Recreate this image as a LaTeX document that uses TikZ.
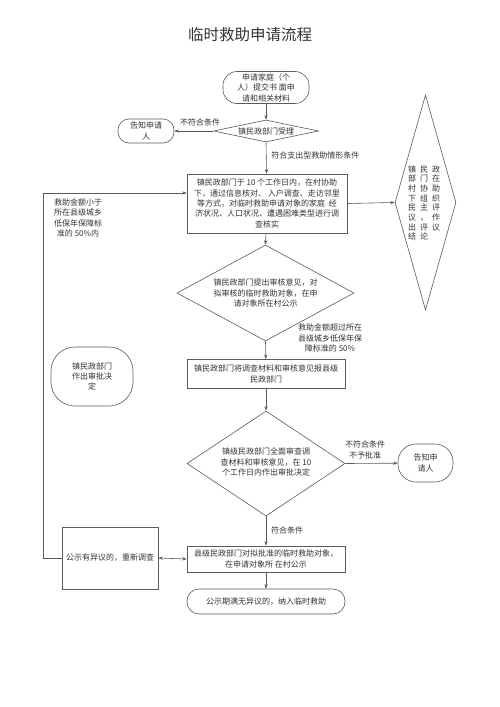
\documentclass[tikz,border=0pt]{standalone}
\usepackage{fontspec}
\setmainfont{Noto Sans CJK SC}
\usetikzlibrary{shapes.geometric,arrows.meta}
\definecolor{lc}{HTML}{5A5A5A}
\definecolor{tc}{HTML}{333333}
\begin{document}
\begin{tikzpicture}[x=1pt,y=-1pt,line width=0.6pt,
  every node/.style={text=tc,font=\fontsize{8}{10.4}\selectfont,align=center},
  box/.style={draw=lc,rectangle,inner sep=0pt},
  stad/.style={draw=lc,rectangle,rounded corners=#1,inner sep=0pt},
  dia/.style={draw=lc,diamond,inner sep=0pt},
  arr/.style={draw=lc,-{Stealth[length=4.5pt,width=3.2pt]}},
  lab/.style={inner sep=0pt}]
\fill[white] (0,0) rectangle (500,707);
\useasboundingbox (0,0) rectangle (500,707);

\node[lab,font=\fontsize{15.5}{17}\selectfont] (title) at (250,35) {临时救助申请流程};

\node[stad=14pt,minimum width=86pt,minimum height=32pt] (start) at (266,87.5) {申请家庭（个\\人）提交书 面申\\请和相关材料};
\node[dia,minimum width=105pt,minimum height=22pt] (d1) at (266,131) {};
\node[lab] (d1t) at (266,131) {镇民政部门受理};
\node[stad=11pt,minimum width=56pt,minimum height=24pt] (no1) at (146,131) {告知申请\\人};
\node[box,minimum width=160pt,minimum height=59pt] (box1) at (267,203.5) {镇民政部门于 10 个工作日内，在村协助\\下，通过信息核对、 入户调查、走访邻里\\等方式，对临时救助申请对象的家庭\ \ 经\\济状况、人口状况、遭遇困难类型进行调\\查核实};
\node[dia,minimum width=61pt,minimum height=215pt] (rd) at (425.5,202.5) {};
\node[lab,align=left,font=\fontsize{8}{9.7}\selectfont] (rdt) at (424,203) {镇\hspace{4pt}民\hspace{4pt}政\\部\hspace{4pt}门\hspace{4pt}在\\村\hspace{4pt}协\hspace{4pt}助\\下\hspace{4pt}组\hspace{4pt}织\\民\hspace{4pt}主\hspace{4pt}评\\议\hspace{4pt}，\hspace{4pt}作\\出\hspace{4pt}评\hspace{4pt}议\\结\hspace{4pt}论};
\node[dia,minimum width=177pt,minimum height=96pt] (d2) at (265.5,293) {};
\node[lab] (d2t) at (265.5,293) {镇民政部门提出审核意见，对\\拟审核的临时救助对象，在申\\请对象所在村公示};
\node[box,minimum width=158pt,minimum height=29pt] (box2) at (266,374) {镇民政部门将调查材料和审核意见报县级\\民政部门};
\node[stad=24pt,minimum width=82pt,minimum height=59pt] (lr) at (92,376.5) {镇民政部门\\作出审批决\\定};
\node[dia,minimum width=158pt,minimum height=105pt] (d3) at (266,463.5) {};
\node[lab] (d3t) at (266,462) {镇级民政部门全面审查调\\查材料和审核意见，在 10\\个工作日内作出审批决定};
\node[stad=18pt,minimum width=55pt,minimum height=38pt] (no2) at (425.5,463) {告知申\\请人};
\node[box,minimum width=158pt,minimum height=26pt] (box4) at (266,559) {县级民政部门对拟批准的临时救助对象，\\在申请对象所 在村公示};
\node[box,minimum width=96pt,minimum height=62pt] (lb) at (110,558) {公示有异议的，重新调查};
\node[stad=12pt,minimum width=158pt,minimum height=25pt] (end) at (266,601.5) {公示期满无异议的，纳入临时救助};

\node[lab] (l1) at (200,122) {不符合条件};
\node[lab,anchor=west] (l2) at (271,155) {符合支出型救助情形条件};
\node[lab] (l3) at (78,218) {救助金额小于\\所在县级城乡\\低保年保障标\\准的 50\%内};
\node[lab] (l4) at (330,338) {救助金额超过所在\\县级城乡低保年保\\障标准的 50\%};
\node[lab] (l5) at (365,450) {不符合条件\\不予批准};
\node[lab] (l6) at (287,530) {符合条件};

\coordinate (lc) at (43,558);

\draw[arr] (start) -- (d1);
\draw[arr] (d1.west) -- (no1);
\draw[arr] (d1.south) -- (box1);
\draw[arr] (box1.east) -- (rd.west);
\draw[arr] (box1) -- (d2.north);
\draw[arr] (d2.south) -- (box2);
\draw[arr] (box2) -- (d3.north);
\draw[arr] (d3.east) -- (no2);
\draw[arr] (d3.south) -- (box4);
\draw[arr] (box4) -- (end);
\draw[draw=lc,{Stealth[length=4.5pt,width=3.2pt]}-{Stealth[length=4.5pt,width=3.2pt]}] (lb.east) -- (box4.west);
\draw[arr] (lb.west) -- (lc) |- ([yshift=10.5pt]box1.west);
\end{tikzpicture}
\end{document}
